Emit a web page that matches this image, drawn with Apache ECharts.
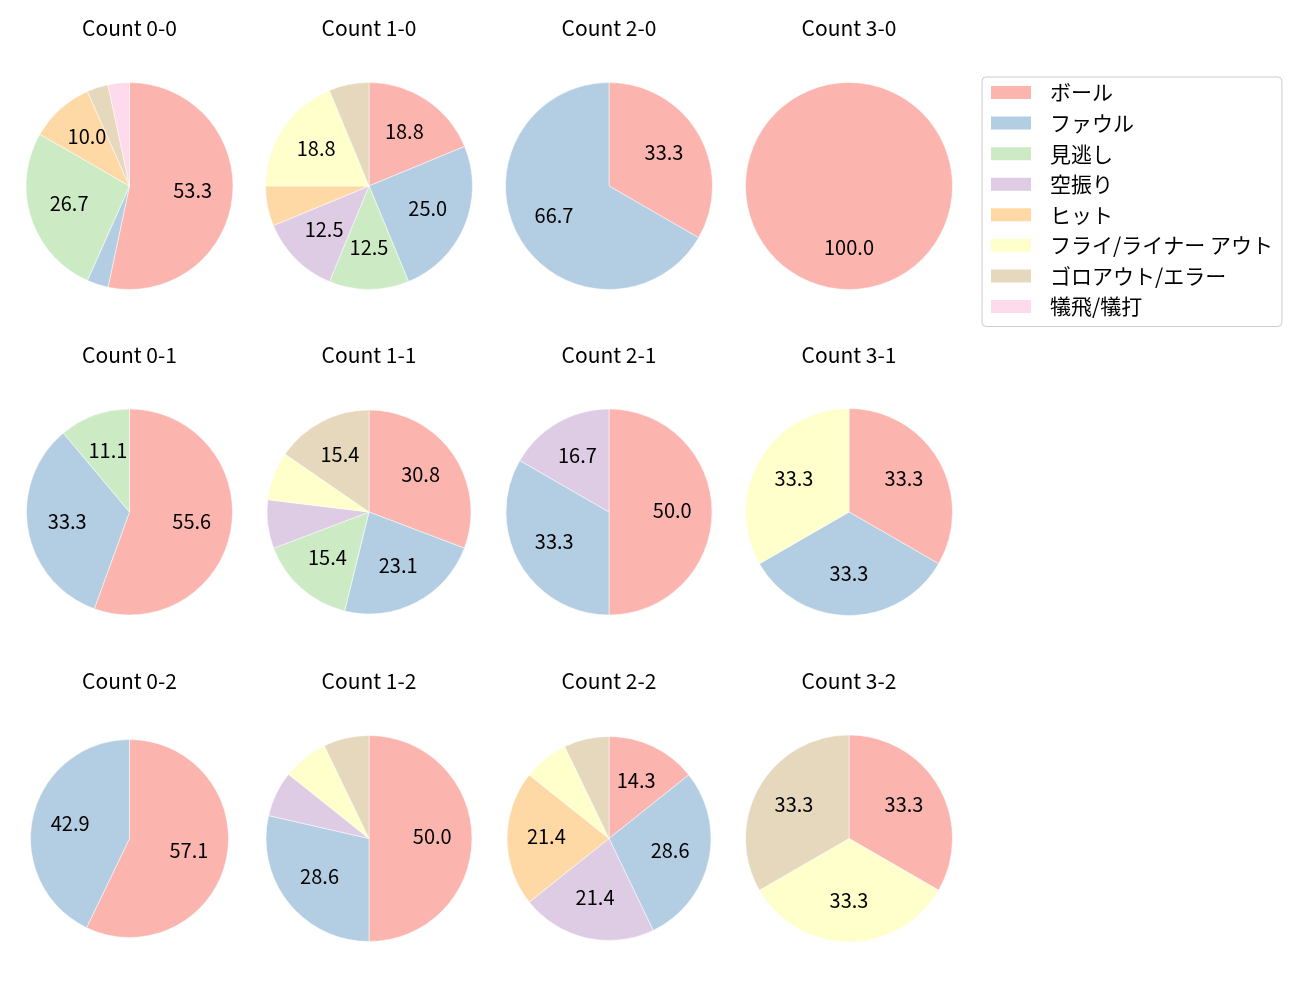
<!DOCTYPE html>
<html>
<head>
<meta charset="utf-8">
<script src="https://cdn.jsdelivr.net/npm/echarts@6/dist/echarts.min.js"></script>
<style>
  html, body { margin: 0; padding: 0; background: #fff; }
  #chart { width: 1300px; height: 1000px; }
</style>
</head>
<body>
<div id="chart"></div>
<script>
// ---- data ----
const categories = ['ボール', 'ファウル', '見逃し', '空振り', 'ヒット', 'フライ/ライナー アウト', 'ゴロアウト/エラー', '犠飛/犠打'];
const panelTitles = [
  'Count 0-0', 'Count 1-0', 'Count 2-0', 'Count 3-0',
  'Count 0-1', 'Count 1-1', 'Count 2-1', 'Count 3-1',
  'Count 0-2', 'Count 1-2', 'Count 2-2', 'Count 3-2'
];
// pitch outcome counts per panel, in category order
const count00 = [16, 1, 8, 0, 3, 0, 1, 1];
const count10 = [3, 4, 2, 2, 1, 3, 1, 0];
const count20 = [1, 2, 0, 0, 0, 0, 0, 0];
const count30 = [1, 0, 0, 0, 0, 0, 0, 0];
const count01 = [5, 3, 1, 0, 0, 0, 0, 0];
const count11 = [4, 3, 2, 1, 0, 1, 2, 0];
const count21 = [3, 2, 0, 1, 0, 0, 0, 0];
const count31 = [1, 1, 0, 0, 0, 1, 0, 0];
const count02 = [4, 3, 0, 0, 0, 0, 0, 0];
const count12 = [7, 4, 0, 1, 0, 1, 1, 0];
const count22 = [2, 4, 0, 3, 3, 1, 1, 0];
const count32 = [1, 0, 0, 0, 0, 1, 1, 0];
const panelValues = [count00, count10, count20, count30, count01, count11, count21, count31, count02, count12, count22, count32];

// ---- styles / layout ----
const colors = ['#fbb4ae', '#b3cde3', '#ccebc5', '#decbe4', '#fed9a6', '#ffffcc', '#e5d8bd', '#fddaec'];
const colX = [129.5, 369, 609, 849];
const rowY = [186, 512, 838.5];
const titleY = [18, 344.5, 671];
const radii = [103.5, 103.5, 103.5, 103.5, 103, 102, 103, 103.5, 99, 103, 102, 103.5];
const FONT = '"Noto Sans CJK JP", "Noto Sans", sans-serif';

const pieSeries = [];
const labelSeries = [];
const titles = [];
panelValues.forEach((vals, i) => {
  const col = i % 4, row = Math.floor(i / 4);
  const cx = colX[col], cy = rowY[row], r = radii[i];
  const total = vals.reduce((a, b) => a + b, 0);
  const data = [];
  vals.forEach((v, k) => {
    if (v > 0) data.push({ name: categories[k], value: v, itemStyle: { color: colors[k] } });
  });
  pieSeries.push({
    type: 'pie', name: panelTitles[i], center: [cx, cy], radius: [0, r],
    startAngle: 90, clockwise: true, avoidLabelOverlap: false, silent: true,
    label: { show: false }, labelLine: { show: false },
    itemStyle: { borderColor: '#fff', borderWidth: 0.5 },
    emphasis: { disabled: true },
    data: data
  });
  labelSeries.push({
    type: 'pie', name: panelTitles[i] + ' labels', center: [cx, cy], radius: [0, r * 1.17],
    startAngle: 90, clockwise: true, avoidLabelOverlap: false, silent: true,
    itemStyle: { color: 'rgba(0,0,0,0)', borderWidth: 0 },
    labelLine: { show: false },
    emphasis: { disabled: true },
    label: {
      show: true, position: 'inside', color: '#000', fontSize: 20, fontFamily: FONT,
      offset: [0, -2],
      formatter: p => {
        const pct = p.value / total * 100;
        return pct >= 9.5 ? pct.toFixed(1) : '';
      }
    },
    data: data.map(d => ({ name: d.name, value: d.value }))
  });
  titles.push({
    text: panelTitles[i], left: cx, top: titleY[row], textAlign: 'center', padding: 0,
    textStyle: { fontSize: 21, fontWeight: 'normal', color: '#000', fontFamily: FONT }
  });
});

const chart = echarts.init(document.getElementById('chart'), null, { renderer: 'canvas' });
chart.setOption({
  animation: false,
  backgroundColor: '#fff',
  title: titles,
  legend: {
    orient: 'vertical', left: 982, top: 77,
    data: categories,
    icon: 'rect', itemWidth: 42, itemHeight: 15, itemGap: 9.57,
    padding: [5, 9, 9.5, 7],
    borderColor: '#cccccc', borderWidth: 1, borderRadius: 4,
    selectedMode: false,
    textStyle: { fontSize: 21, lineHeight: 20, color: '#000', fontFamily: FONT, padding: [0, 0, 0, 13] }
  },
  series: pieSeries.concat(labelSeries)
});
</script>
</body>
</html>
